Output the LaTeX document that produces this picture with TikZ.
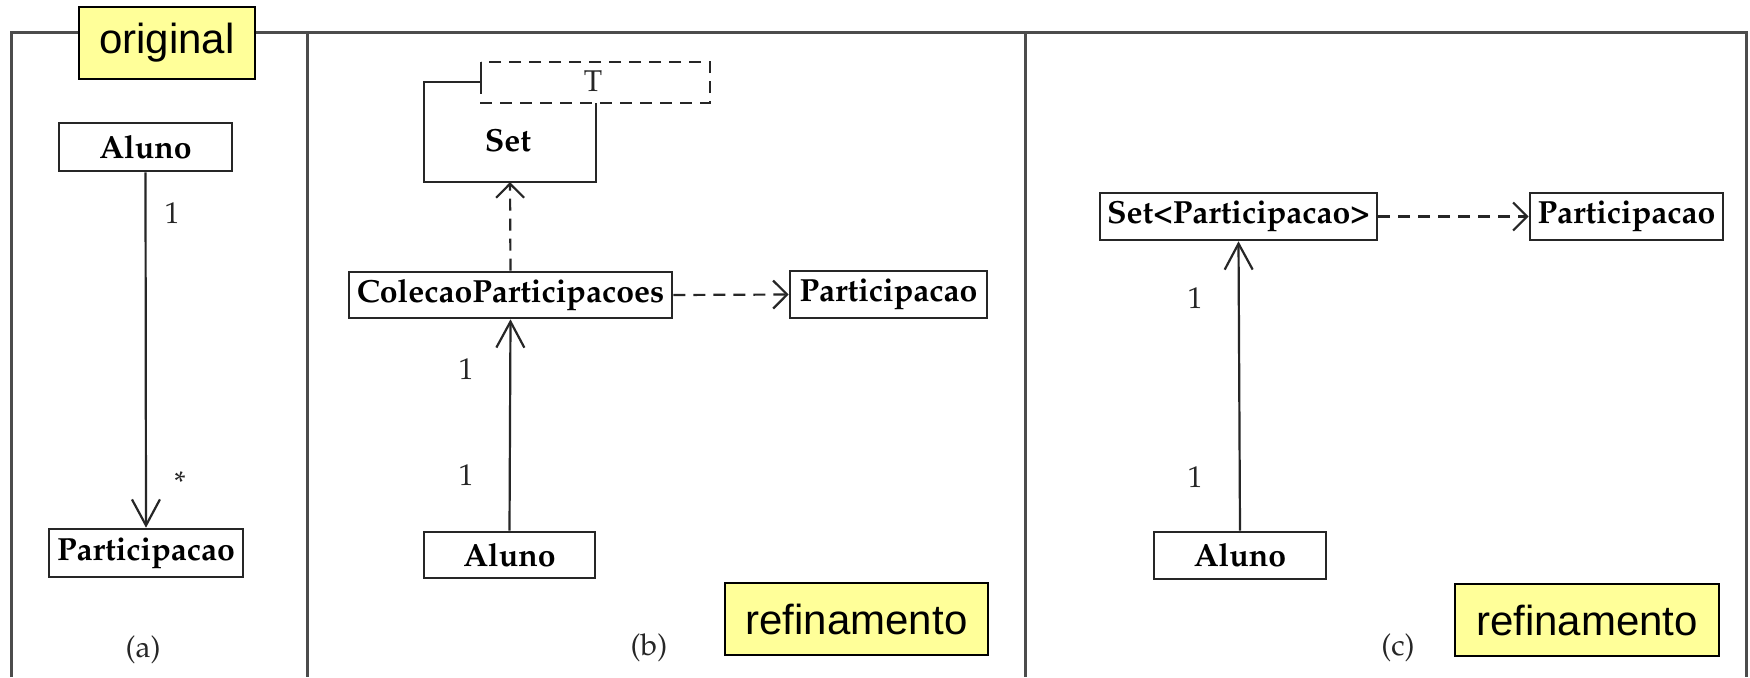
\documentclass[tikz,border=0pt]{standalone}
\usepackage[T1]{fontenc}
\usepackage{fontspec}
\setmainfont{Liberation Sans}
\usetikzlibrary{arrows.meta}
\newcommand{\palb}{\fontencoding{T1}\fontfamily{ppl}\fontseries{b}\fontshape{n}\fontsize{32}{38}\selectfont}
\newcommand{\palr}{\fontencoding{T1}\fontfamily{ppl}\fontseries{m}\fontshape{n}\fontsize{30}{36}\selectfont}
\definecolor{notey}{HTML}{FFFF99}
\tikzset{
  frameline/.style={draw=black!70, line width=3pt},
  uml/.style={draw=black!85, line width=2.6pt, fill=white, inner sep=0pt, font=\palb, text=black},
  notebox/.style={draw=black, line width=2.2pt, fill=notey, inner sep=0pt, font=\fontsize{42}{48}\selectfont},
  lbl/.style={font=\palr, text=black!85, inner sep=0pt},
  assoc/.style={draw=black!85, line width=2.2pt, -{Straight Barb[length=26pt,width=28pt,line width=2.2pt]}},
  dep/.style={draw=black!85, line width=2.2pt, dash pattern=on 12pt off 8pt, -{Straight Barb[length=14pt,width=28pt,line width=2.2pt]}},
  umlline/.style={draw=black!85, line width=2.6pt},
  dashbox/.style={draw=black!85, line width=2.4pt, dash pattern=on 12pt off 8pt}
}
\begin{document}
\begin{tikzpicture}[x=1pt,y=-1pt]
\useasboundingbox (0,0) rectangle (1750,677);
\fill[white] (0,0) rectangle (1750,677);
% frame
\coordinate (ftl) at (11,33);
\coordinate (fbl) at (11,677);
\coordinate (ftr) at (1746,33);
\coordinate (fbr) at (1746,677);
\coordinate (d1t) at (307,33);
\coordinate (d1b) at (307,677);
\coordinate (d2t) at (1025,33);
\coordinate (d2b) at (1025,677);
\draw[frameline] (fbl) -- (ftl) -- (ftr) -- (fbr);
\draw[frameline] (d1t) -- (d1b);
\draw[frameline] (d2t) -- (d2b);
% panel (a)
\node[notebox, minimum width=176, minimum height=72] (orig) at (167,43) {original};
\node[uml, minimum width=173, minimum height=48] (alunoA) at (145.5,147) {Aluno};
\node[uml, minimum width=194, minimum height=48] (partA) at (146,553) {Participacao};
\draw[assoc] (alunoA.south) -- (partA.north);
\node[lbl] (oneA) at (172,213) {1};
\node[lbl] (starA) at (180,482) {*};
\node[lbl] (capA) at (143,650) {(a)};
% panel (b)
\node[minimum width=172, minimum height=100, inner sep=0pt] (setB) at (510,132) {};
\draw[umlline] (481,62) -- (481,82) -- (424,82) -- (424,182) -- (596,182) -- (596,103);
\draw[dashbox] (481,62) rectangle (710,103);
\node[lbl] (tB) at (593,81) {T};
\node[font=\palb, inner sep=0pt] (setlbl) at (508,140) {Set};
\node[uml, minimum width=323, minimum height=46] (colB) at (510.5,295) {ColecaoParticipacoes};
\node[uml, minimum width=197, minimum height=47] (partB) at (888.5,294.5) {Participacao};
\node[uml, minimum width=171, minimum height=46] (alunoB) at (509.5,555) {Aluno};
\draw[dep] (colB.north) -- (setB.south);
\draw[dep] (colB.east) -- (partB.west);
\draw[assoc] (alunoB.north) -- (colB.south);
\node[lbl] (oneB1) at (466,369) {1};
\node[lbl] (oneB2) at (466,475) {1};
\node[lbl] (capB) at (649,648) {(b)};
\node[notebox, minimum width=263, minimum height=72] (refB) at (856.5,619) {refinamento};
% panel (c)
\node[uml, minimum width=277, minimum height=47] (setC) at (1238.5,216.5) {Set<Participacao>};
\node[uml, minimum width=193, minimum height=47] (partC) at (1626.5,216.5) {Participacao};
\node[uml, minimum width=172, minimum height=47] (alunoC) at (1240,555.5) {Aluno};
\draw[dep] (setC.east) -- (partC.west);
\draw[assoc] (alunoC.north) -- (setC.south);
\node[lbl] (oneC1) at (1195,298) {1};
\node[lbl] (oneC2) at (1195,477) {1};
\node[lbl] (capC) at (1398,648) {(c)};
\node[notebox, minimum width=264, minimum height=72] (refC) at (1587,620) {refinamento};
\end{tikzpicture}
\end{document}
